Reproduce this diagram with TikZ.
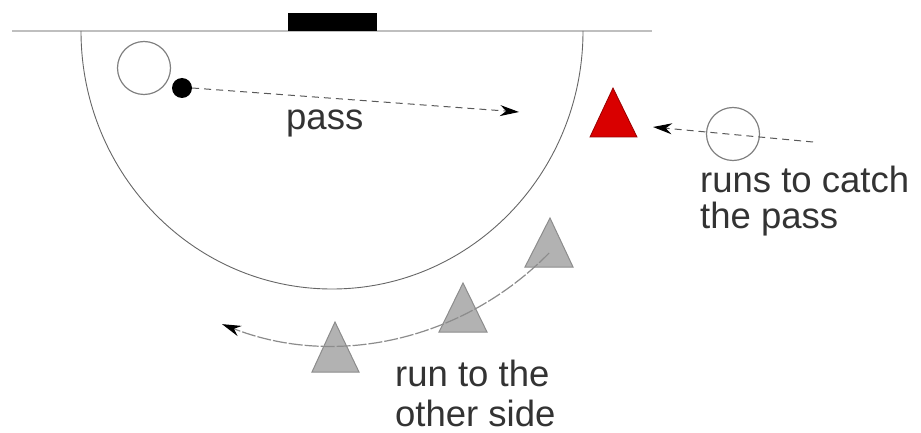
\documentclass[tikz,border=0pt]{standalone}
\usepackage{fontspec}
\setmainfont{Liberation Sans}
\usetikzlibrary{arrows.meta}
\begin{document}
\begin{tikzpicture}[x=1pt,y=-1pt,
  lbl/.style={font=\fontsize{36.5}{42}\selectfont, text=black!80, inner sep=0pt, anchor=base west},
  player/.style={circle, draw=black!50, line width=1.2pt, minimum size=53pt, inner sep=0pt},
  ball/.style={circle, fill=black, minimum size=20pt, inner sep=0pt},
  movearrow/.style={draw=black!65, line width=1pt, dash pattern=on 7pt off 5pt, -{Stealth[length=19pt,width=11pt,color=black]}},
  runarrow/.style={draw=black!45, line width=1.2pt, dash pattern=on 14pt off 2pt, -{Stealth[length=19pt,width=11pt,color=black]}},
  circleline/.style={draw=black!60, line width=0.9pt},
  goalline/.style={draw=black!25, line width=2.5pt},
  redtri/.style={fill=red!85!black, draw=red!60!black, line width=0.8pt},
  greytri/.style={fill=black!30, draw=black!45, line width=1pt}
]
\useasboundingbox (0,0) rectangle (921,433);
% goal line and goal
\coordinate (lineL) at (12,31);
\coordinate (lineR) at (652,31);
\draw[goalline] (lineL) -- (lineR);
\fill[black] (288,13) rectangle (377,31);
% shooting circle
\coordinate (arcL) at (81,31);
\draw[circleline] (arcL) arc[start angle=180, end angle=0, x radius=251, y radius=258];
% players
\node[player] (p1) at (144,68) {};
\node[ball] (b) at (182,88) {};
\node[player] (p2) at (733,134) {};
% triangles
\draw[redtri] (613,88) -- (637,137) -- (590,137) -- cycle;
\draw[greytri] (550,218) -- (573,267) -- (525,267) -- cycle;
\draw[greytri] (463,283) -- (487,332) -- (439,332) -- cycle;
\draw[greytri] (335,322) -- (359,372) -- (312,372) -- cycle;
% arrows
\coordinate (passend) at (519,112);
\draw[movearrow] (b.east) -- (passend);
\coordinate (runstart) at (813,142);
\coordinate (runend) at (653,127);
\draw[movearrow] (runstart) -- (runend);
\coordinate (swingstart) at (549.1,253);
\draw[runarrow] (swingstart) arc[start angle=45, end angle=111, x radius=307, y radius=314];
% labels
\node[lbl] (tpass) at (286,130) {pass};
\node[lbl] (tr1) at (700,192) {runs to catch};
\node[lbl] (tr2) at (700,228) {the pass};
\node[lbl] (to1) at (395,386) {run to the};
\node[lbl] (to2) at (395,426) {other side};
\end{tikzpicture}
\end{document}
